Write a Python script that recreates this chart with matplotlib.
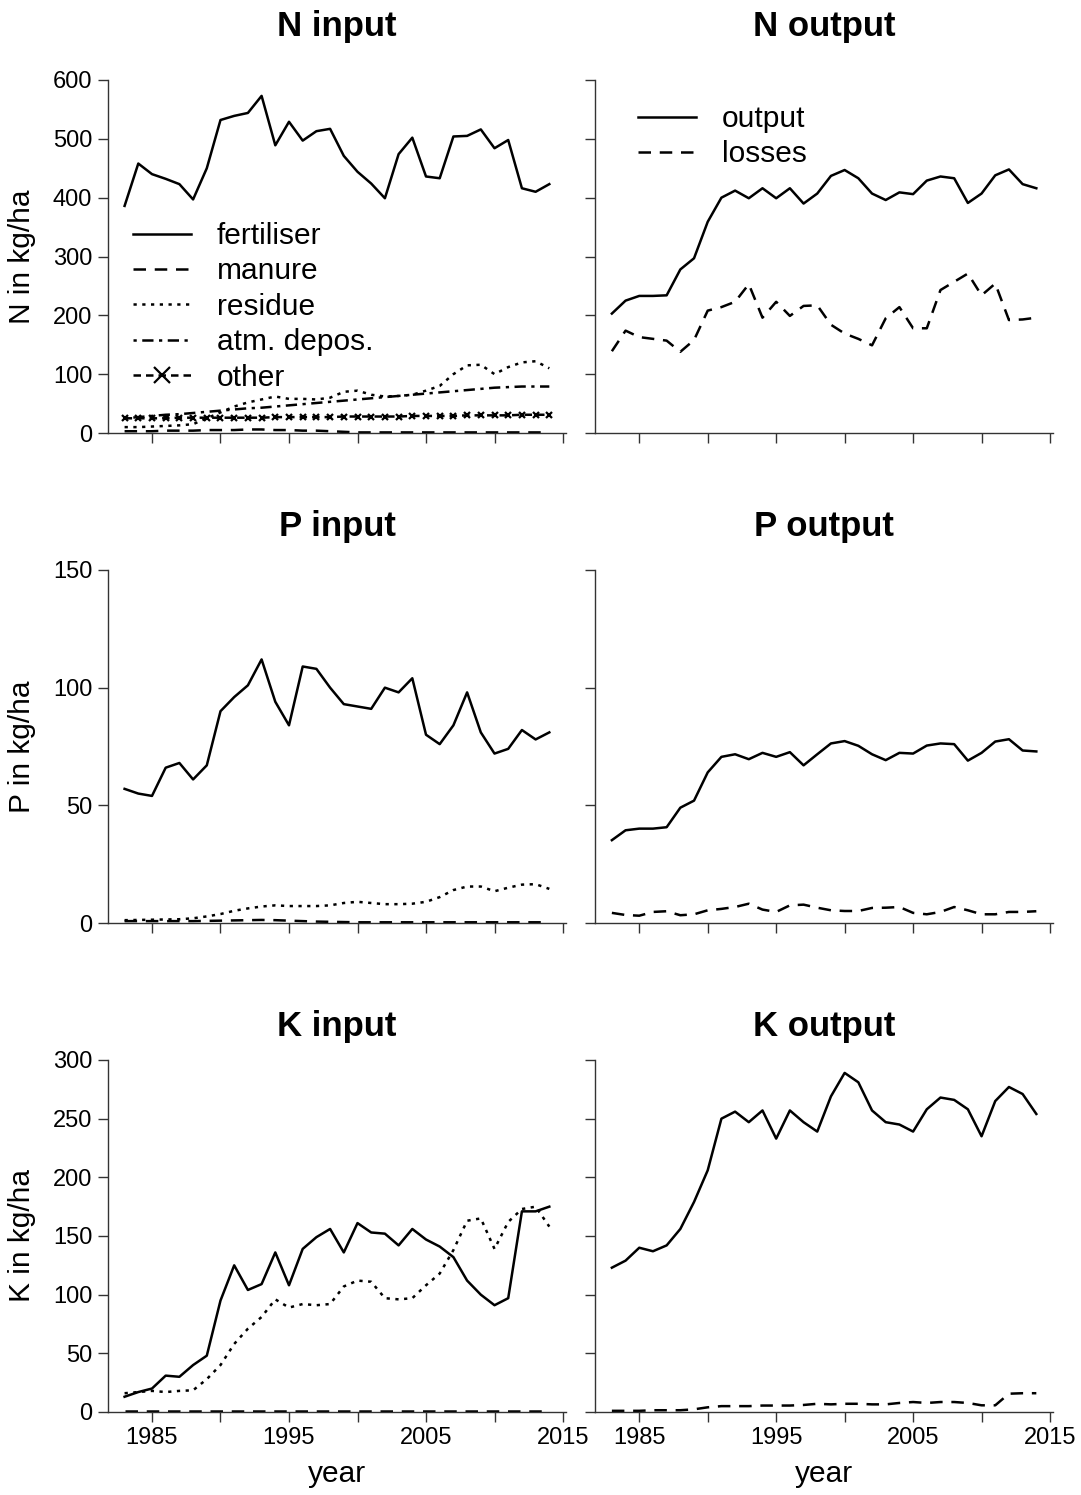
import numpy as np
import matplotlib
matplotlib.use("Agg")
import matplotlib.pyplot as plt

plt.rcParams['font.family'] = ['Liberation Sans', 'DejaVu Sans']

years = list(range(1983, 2015))

# ---- N ----
n_fertiliser = [386, 458, 440, 432, 423, 397, 450, 532, 539, 544, 573, 489, 529, 497, 513, 517,
                471, 444, 424, 399, 474, 502, 436, 433, 504, 505, 516, 484, 498, 416, 410, 423]
n_manure = [3, 3, 3, 4, 4, 4, 5, 5, 5, 6, 6, 5, 5, 4, 4, 3,
            2, 1, 1, 1, 1, 1, 1, 1, 1, 1, 1, 1, 1, 1, 1, 1]
n_residue = [10, 10, 11, 12, 13, 15, 25, 35, 45, 52, 57, 62, 58, 58, 57, 60,
             70, 72, 65, 62, 63, 65, 72, 80, 100, 115, 116, 100, 112, 120, 122, 110]
n_atm = [25, 27, 29, 31, 32, 34, 36, 38, 40, 42, 43, 45, 47, 49, 51, 53,
         55, 57, 59, 61, 63, 65, 67, 69, 71, 73, 75, 77, 78, 79, 79, 79]
n_other = [25, 25, 25, 25, 26, 26, 26, 26, 26, 26, 26, 27, 27, 27, 27, 27,
           28, 28, 28, 28, 28, 29, 29, 29, 29, 30, 30, 30, 30, 31, 31, 31]
n_output = [203, 225, 233, 233, 234, 278, 297, 359, 400, 412, 399, 416, 399, 416, 390, 407,
            437, 447, 433, 407, 396, 409, 406, 429, 436, 433, 391, 407, 438, 448, 423, 416]
n_losses = [139, 174, 163, 160, 157, 138, 158, 208, 214, 223, 253, 196, 223, 199, 216, 217,
            184, 169, 160, 149, 195, 214, 178, 178, 243, 257, 271, 234, 254, 192, 193, 196]

# ---- P ----
p_fertiliser = [57, 55, 54, 66, 68, 61, 67, 90, 96, 101, 112, 94, 84, 109, 108, 100,
                93, 92, 91, 100, 98, 104, 80, 76, 84, 98, 81, 72, 74, 82, 78, 81]
p_manure = [0.8, 0.8, 0.8, 0.8, 0.8, 0.8, 0.9, 1.0, 1.1, 1.2, 1.3, 1.2, 1.0, 0.8, 0.6, 0.5,
            0.4, 0.3, 0.3, 0.3, 0.3, 0.3, 0.3, 0.3, 0.3, 0.3, 0.3, 0.3, 0.3, 0.3, 0.3, 0.3]
p_residue = [1.2, 1.3, 1.4, 1.5, 1.6, 2.0, 2.8, 3.8, 5.2, 6.2, 7.0, 7.5, 7.2, 7.2, 7.2, 7.5,
             8.5, 9.0, 8.5, 8.0, 8.0, 8.2, 9.0, 11.0, 14.0, 15.5, 15.5, 13.5, 15.0, 16.3, 16.5, 14.5]
p_output = [35.2, 39.4, 40.1, 40.1, 40.7, 49, 52, 64, 70.6, 71.7, 69.6, 72.3, 70.6, 72.6, 67, 71.7,
            76.3, 77.3, 75.3, 71.7, 69.2, 72.3, 72, 75.4, 76.3, 76, 69, 72.3, 77.1, 78.1, 73.3, 72.9]
p_losses = [4.3, 3.4, 3.1, 4.7, 5.0, 3.3, 3.7, 5.4, 6.0, 6.8, 8.2, 5.7, 4.7, 7.5, 7.8, 6.5,
            5.4, 5.1, 5.1, 6.4, 6.5, 6.8, 4.3, 3.7, 4.7, 6.8, 5.4, 3.7, 3.7, 4.7, 4.7, 5.0]

# ---- K ----
k_fertiliser = [13, 17, 20, 31, 30, 40, 48, 95, 125, 104, 109, 136, 108, 139, 149, 156,
                136, 161, 153, 152, 142, 156, 147, 141, 132, 112, 100, 91, 97, 171, 171, 175]
k_manure = [0.5] * 32
k_residue = [16, 17, 18, 17, 18, 18.5, 28, 40, 58, 71, 81, 96, 89, 92, 91, 92,
             107, 112, 111, 97, 96, 97, 108, 118, 138, 163, 165, 139, 162, 173, 175, 158]
k_output = [123, 129, 140, 137, 142, 156, 179, 206, 250, 256, 247, 257, 233, 257, 247, 239,
            269, 289, 281, 257, 247, 245, 239, 258, 268, 266, 258, 235, 265, 277, 271, 254]
k_losses = [1, 1, 1, 1.5, 1.5, 1.5, 2.3, 4, 5, 5, 5, 5.5, 5.5, 5.5, 6, 7,
            6.5, 7, 7, 6.5, 6.5, 7.7, 8.5, 7.7, 8.5, 8.5, 7.7, 5.7, 5.7, 15.6, 16, 16]

input_labels = ["fertiliser", "manure", "residue", "atm. depos.", "other"]
output_labels = ["output", "losses"]
x_ticks = [1985, 1990, 1995, 2000, 2005, 2010, 2015]
x_ticklabels = ["1985", "", "1995", "", "2005", "", "2015"]

W, H = 1081, 1495
fig = plt.figure(figsize=(W / 100, H / 100), dpi=100)

LW = 1.8
SOLID = '-'
DASHED = (0, (5, 3.5))
DOTTED = (0, (1.3, 2.2))
DASHDOT = (0, (1.3, 2.2, 4.5, 2.2))
OTHER = (0, (3, 2))
SPINE = '#333333'


def make_ax(left_px, top_px, right_px, bottom_px):
    return fig.add_axes([left_px / W, 1 - bottom_px / H,
                         (right_px - left_px) / W, (bottom_px - top_px) / H])


def style(ax, ylim, yticks, show_xlabels):
    ax.set_xlim(1981.76, 2015.24)
    ax.set_ylim(*ylim)
    ax.set_yticks(yticks)
    ax.set_xticks(x_ticks)
    if show_xlabels:
        ax.set_xticklabels(x_ticklabels)
    else:
        ax.set_xticklabels([])
    for s in ['top', 'right']:
        ax.spines[s].set_visible(False)
    for s in ['left', 'bottom']:
        ax.spines[s].set_color(SPINE)
        ax.spines[s].set_linewidth(1.0)
    ax.spines['left'].set_bounds(ylim[0], yticks[-1])
    ax.tick_params(axis='both', direction='out', length=7, width=1.0, color=SPINE,
                   labelsize=17, pad=4)


left_x = (107.6, 566.3)
right_x = (594.9, 1053.3)
rows = [(80, 433), (570, 923), (1060, 1412)]
title_base = [36, 536, 1036]

axes = {}
for r, (top, bot) in enumerate(rows):
    axes[(r, 0)] = make_ax(left_x[0], top, left_x[1], bot)
    axes[(r, 1)] = make_ax(right_x[0], top, right_x[1], bot)

leg_kw = dict(frameon=False, fontsize=21.5, handlelength=1.95, handletextpad=0.85,
              labelspacing=0.25, borderpad=0, borderaxespad=0, loc='upper left')

# N input
ax = axes[(0, 0)]
ax.plot(years, n_fertiliser, color='k', lw=LW, ls=SOLID, label=input_labels[0])
ax.plot(years, n_manure, color='k', lw=LW, ls=DASHED, label=input_labels[1])
ax.plot(years, n_residue, color='k', lw=LW, ls=DOTTED, label=input_labels[2])
ax.plot(years, n_atm, color='k', lw=LW, ls=DASHDOT, label=input_labels[3])
ax.plot(years, n_other, color='k', lw=LW, ls=OTHER, marker='x', ms=5, mew=1.6,
        label=input_labels[4])
style(ax, (0, 600), [0, 100, 200, 300, 400, 500, 600], False)
ax.legend(bbox_to_anchor=((133 - left_x[0]) / (left_x[1] - left_x[0]),
                          (433 - 222) / 353), numpoints=1, markerscale=2.4, **leg_kw)

# N output
ax = axes[(0, 1)]
ax.plot(years, n_output, color='k', lw=LW, ls=SOLID, label=output_labels[0])
ax.plot(years, n_losses, color='k', lw=LW, ls=DASHED, label=output_labels[1])
style(ax, (0, 600), [0, 100, 200, 300, 400, 500, 600], False)
ax.set_yticklabels([])
ax.legend(bbox_to_anchor=((638 - right_x[0]) / (right_x[1] - right_x[0]),
                          (433 - 105) / 353), **leg_kw)

# P input
ax = axes[(1, 0)]
ax.plot(years, p_fertiliser, color='k', lw=LW, ls=SOLID)
ax.plot(years, p_manure, color='k', lw=LW, ls=DASHED)
ax.plot(years, p_residue, color='k', lw=LW, ls=DOTTED)
style(ax, (0, 150), [0, 50, 100, 150], False)

# P output
ax = axes[(1, 1)]
ax.plot(years, p_output, color='k', lw=LW, ls=SOLID)
ax.plot(years, p_losses, color='k', lw=LW, ls=DASHED)
style(ax, (0, 150), [0, 50, 100, 150], False)
ax.set_yticklabels([])

# K input
ax = axes[(2, 0)]
ax.plot(years, k_fertiliser, color='k', lw=LW, ls=SOLID)
ax.plot(years, k_manure, color='k', lw=LW, ls=DASHED)
ax.plot(years, k_residue, color='k', lw=LW, ls=DOTTED)
style(ax, (0, 300), [0, 50, 100, 150, 200, 250, 300], True)

# K output
ax = axes[(2, 1)]
ax.plot(years, k_output, color='k', lw=LW, ls=SOLID)
ax.plot(years, k_losses, color='k', lw=LW, ls=DASHED)
style(ax, (0, 300), [0, 50, 100, 150, 200, 250, 300], True)
ax.set_yticklabels([])

# titles
titles = [("N input", "N output"), ("P input", "P output"), ("K input", "K output")]
for r in range(3):
    for c, (x0, x1) in enumerate([left_x, right_x]):
        fig.text((x0 + x1) / 2 / W, 1 - title_base[r] / H, titles[r][c],
                 ha='center', va='baseline', fontsize=25, fontweight='bold')

# y labels
ylabels = ["N in kg/ha", "P in kg/ha", "K in kg/ha"]
for r, (top, bot) in enumerate(rows):
    fig.text(22 / W, 1 - (top + bot) / 2 / H, ylabels[r], rotation=90,
             ha='center', va='center', fontsize=21.5)

# x labels
for (x0, x1) in [left_x, right_x]:
    fig.text((x0 + x1) / 2 / W, 1 - 1482 / H, "year", ha='center', va='baseline',
             fontsize=21.5)

fig.savefig("out.png", dpi=100)
